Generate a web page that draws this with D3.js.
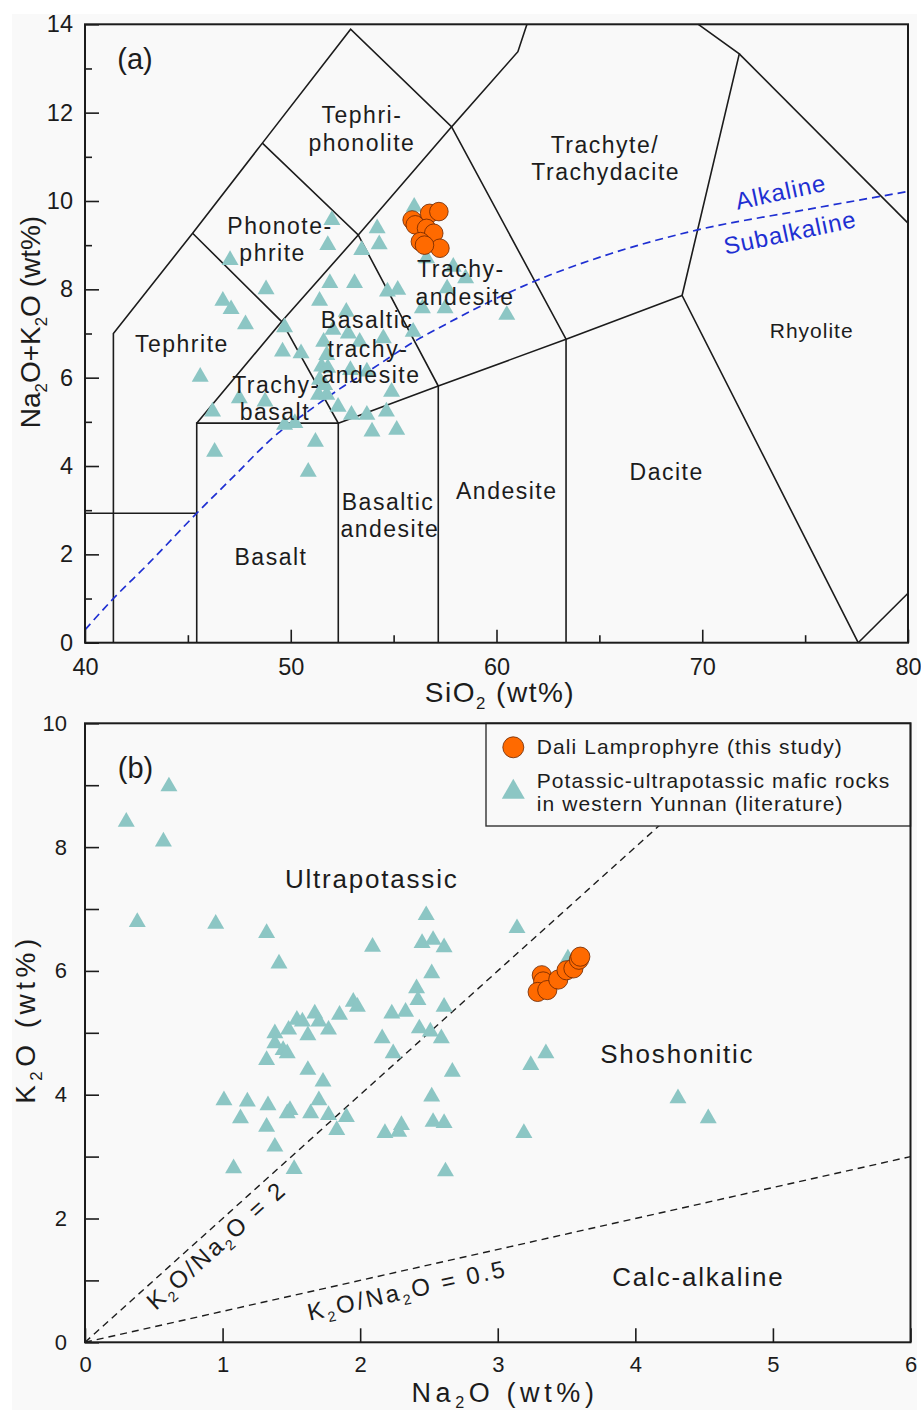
<!DOCTYPE html>
<html>
<head>
<meta charset="utf-8">
<script src="https://cdn.jsdelivr.net/npm/d3@7"></script>
<style>
  html, body { margin: 0; padding: 0; background: #ffffff; }
  svg { display: block; font-family: "Liberation Sans", Arial, Helvetica, sans-serif; }
</style>
</head>
<body>
<svg id="fig" width="921" height="1410"></svg>
<script>
// ---------------- Panel (a): TAS diagram ----------------
// Axis ticks
const tasXTicks = [40, 50, 60, 70, 80];
const tasXMinor = [45, 55, 65, 75];
const tasYTicks = [0, 2, 4, 6, 8, 10, 12, 14];
const tasYMinor = [1, 3, 5, 7, 9, 11, 13];

// Field boundaries (SiO2, Na2O+K2O)
const tasBoundaries = [
  [[41.38, 0], [41.38, 7.0], [45.23, 9.27], [48.62, 11.31], [52.91, 13.89], [57.82, 11.68], [61.04, 13.38], [61.48, 14]],
  [[40, 2.93], [45.43, 2.93]],
  [[45.43, 0], [45.43, 4.97], [52.31, 4.97], [52.31, 0]],
  [[45.23, 9.27], [49.56, 7.27], [45.43, 4.97]],
  [[48.62, 11.31], [53.28, 9.23], [57.17, 5.81], [57.17, 0]],
  [[49.56, 7.27], [53.28, 9.23], [57.82, 11.68]],
  [[49.56, 7.27], [52.31, 4.97], [57.17, 5.81], [63.38, 6.87], [69.02, 7.86], [77.58, 0]],
  [[57.82, 11.68], [63.38, 6.87], [63.38, 0]],
  [[69.02, 7.86], [71.8, 13.33], [69.81, 14]],
  [[71.8, 13.33], [80, 9.5]],
  [[77.58, 0], [80, 1.12]]
];

// Alkaline / subalkaline divide
const alkalineDivide = [
  [40, 0.29], [41.38, 1.0], [43, 1.75], [45.43, 2.93], [47.13, 3.72], [49.48, 4.78],
  [50.61, 5.16], [52.55, 5.80], [53.85, 6.17], [56.12, 6.85], [57.5, 7.2], [59.84, 7.76],
  [61.63, 8.14], [65.5, 8.8], [69.72, 9.34], [75, 9.8], [79.93, 10.21]
];

// Field names (SiO2, alkali at text baseline centre)
const tasLabels = [
  { t: "Tephri-", x: 53.46, y: 11.77 },
  { t: "phonolite", x: 53.46, y: 11.14 },
  { t: "Phonote-", x: 49.48, y: 9.25 },
  { t: "phrite", x: 49.12, y: 8.64 },
  { t: "Trachyte/", x: 65.27, y: 11.09 },
  { t: "Trachydacite", x: 65.31, y: 10.48 },
  { t: "Trachy-", x: 58.27, y: 8.29 },
  { t: "andesite", x: 58.47, y: 7.65 },
  { t: "Tephrite", x: 44.71, y: 6.59 },
  { t: "Basaltic", x: 53.71, y: 7.12 },
  { t: "trachy-", x: 53.75, y: 6.47 },
  { t: "andesite", x: 53.9, y: 5.87 },
  { t: "Trachy-", x: 49.28, y: 5.65 },
  { t: "basalt", x: 49.23, y: 5.04 },
  { t: "Basalt", x: 49.04, y: 1.76 },
  { t: "Basaltic", x: 54.73, y: 3.0 },
  { t: "andesite", x: 54.82, y: 2.40 },
  { t: "Andesite", x: 60.5, y: 3.25 },
  { t: "Dacite", x: 68.27, y: 3.68 },
  { t: "Rhyolite", x: 75.32, y: 6.9, small: true }
];
const seriesLabels = [
  { t: "Alkaline", x: 73.9, y: 10.02 },
  { t: "Subalkaline", x: 74.35, y: 9.1 }
];

// Potassic-ultrapotassic mafic rocks, western Yunnan (SiO2, Na2O+K2O)
const litTAS = [
  [52.0, 9.57], [51.8, 9.0], [47.05, 8.66], [48.8, 8.0], [51.9, 8.14], [46.7, 7.74], [47.1, 7.55],
  [47.8, 7.21], [51.4, 7.74], [49.7, 7.14], [54.2, 9.38], [54.3, 9.02], [53.45, 8.89], [56.0, 9.87],
  [53.1, 8.14], [54.7, 7.95], [55.2, 7.99], [56.6, 8.7], [57.9, 8.51], [58.5, 8.25], [57.6, 8.02],
  [56.4, 7.57], [57.5, 7.57], [60.5, 7.42], [52.7, 7.49], [49.6, 6.59], [50.5, 6.55], [51.6, 6.81],
  [51.75, 6.51], [51.5, 6.25], [45.6, 6.02], [51.35, 5.61], [51.75, 5.61], [47.5, 5.53], [48.75, 5.46],
  [46.2, 5.23], [52.3, 5.34], [52.95, 5.16], [49.7, 4.93], [50.2, 4.97], [51.2, 4.55], [46.3, 4.32],
  [50.85, 3.87], [52.8, 7.0], [53.35, 6.81], [54.5, 6.89], [55.95, 7.04], [52.9, 6.17], [53.7, 6.14],
  [51.8, 6.22], [51.4, 5.95], [54.9, 5.68], [54.65, 5.23], [53.7, 5.16], [53.95, 4.78], [55.15, 4.82],
  [52.05, 7.08], [51.65, 5.83]
];
// Dali lamprophyre (SiO2, Na2O+K2O)
const daliTAS = [
  [55.9, 9.57], [56.05, 9.46], [56.75, 9.72], [57.2, 9.76], [56.6, 9.38],
  [56.95, 9.27], [56.3, 9.08], [57.25, 8.93], [56.5, 9.0]
];

// ---------------- Panel (b): K2O vs Na2O ----------------
const bXTicks = [0, 1, 2, 3, 4, 5, 6];
const bYTicks = [0, 2, 4, 6, 8, 10];
const bYMinor = [1, 3, 5, 7, 9];
const ratioLines = [
  { ratio: 2, label: "K_2O/Na_2O = 2", x: 0.996, y: 1.47 },
  { ratio: 0.5, label: "K_2O/Na_2O = 0.5", x: 2.355, y: 0.71 }
];
const bLabels = [
  { t: "Ultrapotassic", x: 2.084, y: 7.34 },
  { t: "Shoshonitic", x: 4.305, y: 4.51 },
  { t: "Calc-alkaline", x: 4.458, y: 0.91 }
];
const legendItems = [
  { kind: "circle", lines: ["Dali Lamprophyre (this study)"] },
  { kind: "triangle", lines: ["Potassic-ultrapotassic mafic rocks", "in western Yunnan (literature)"] }
];
// (Na2O, K2O)
const litNaK = [
  [0.30, 8.41], [0.61, 8.98], [0.57, 8.09], [0.38, 6.79], [0.95, 6.76], [1.32, 6.61], [1.41, 6.12],
  [2.09, 6.39], [2.48, 6.90], [2.45, 6.45], [2.53, 6.50], [2.61, 6.38], [2.52, 5.96], [2.41, 5.72],
  [2.42, 5.53], [2.61, 5.42], [2.43, 5.07], [2.51, 5.02], [2.59, 4.91], [2.23, 5.31], [2.33, 5.34],
  [2.16, 4.91], [2.24, 4.67], [1.95, 5.50], [1.98, 5.42], [1.85, 5.29], [1.67, 5.31], [1.70, 5.18],
  [1.77, 5.05], [1.54, 5.21], [1.58, 5.18], [1.48, 5.05], [1.62, 4.96], [1.38, 4.99], [1.38, 4.83],
  [1.44, 4.72], [1.47, 4.67], [1.32, 4.56], [1.62, 4.40], [1.73, 4.21], [1.01, 3.91], [1.18, 3.89],
  [1.33, 3.83], [1.49, 3.75], [1.47, 3.70], [1.70, 3.91], [1.64, 3.70], [1.77, 3.67], [1.90, 3.64],
  [1.83, 3.43], [1.13, 3.62], [1.32, 3.48], [1.38, 3.16], [1.08, 2.81], [1.52, 2.80], [2.18, 3.38],
  [2.28, 3.40], [2.30, 3.51], [2.52, 3.97], [2.53, 3.56], [2.61, 3.54], [2.67, 4.37], [2.62, 2.76],
  [3.14, 6.69], [3.51, 6.20], [3.35, 4.67], [3.24, 4.48], [3.19, 3.38], [4.31, 3.94], [4.53, 3.62]
];
const daliNaK = [
  [3.32, 5.93], [3.33, 5.83], [3.29, 5.66], [3.36, 5.69], [3.44, 5.86],
  [3.50, 6.01], [3.55, 6.04], [3.59, 6.18], [3.60, 6.23]
];

// ---------------- drawing ----------------
const INK = "#1c1c1c";
const TEAL = "#8cc6c4";
const ORANGE = "#ff6a00";
const BLUE = "#1e2fd2";
const PAPER = "#f9f9f9";

const svg = d3.select("#fig");
svg.append("rect").attr("x", 12).attr("y", 14).attr("width", 905).attr("height", 1396).attr("fill", PAPER);

// text with "_n" subscripts
function richText(sel, str, fs) {
  const parts = str.split(/_(\d)/);
  let wasSub = false;
  parts.forEach((p, i) => {
    if (p === "") return;
    const isSub = i % 2 === 1;
    const ts = sel.append("tspan").text(p);
    if (isSub) { ts.attr("font-size", fs * 0.6).attr("dy", fs * 0.24); wasSub = true; }
    else if (wasSub) { ts.attr("dy", -fs * 0.24); wasSub = false; }
  });
  return sel;
}

const tri = (s) => d3.symbol().type(d3.symbolTriangle).size(s)();

function styleAxis(g, fs) {
  g.select(".domain").remove();
  g.attr("font-family", '"Liberation Sans", Arial, sans-serif').attr("font-size", fs).attr("color", INK);
  g.selectAll(".tick line").attr("stroke-width", 1.6);
  g.selectAll(".tick text").attr("fill", INK);
}

// ===== Panel (a) =====
const xA = d3.scaleLinear().domain([40, 80]).range([85, 908]);
const yA = d3.scaleLinear().domain([0, 14]).range([642.7, 24.3]);
const gA = svg.append("g");
const lineA = d3.line().x(d => xA(d[0])).y(d => yA(d[1]));

gA.selectAll("path.bnd").data(tasBoundaries).join("path")
  .attr("class", "bnd").attr("d", lineA)
  .attr("fill", "none").attr("stroke", INK).attr("stroke-width", 1.6).attr("stroke-linejoin", "miter");

gA.append("path").datum(alkalineDivide)
  .attr("d", d3.line().x(d => xA(d[0])).y(d => yA(d[1])).curve(d3.curveMonotoneX))
  .attr("fill", "none").attr("stroke", BLUE).attr("stroke-width", 1.7).attr("stroke-dasharray", "8,5");

gA.selectAll("path.lit").data(litTAS).join("path")
  .attr("class", "lit").attr("d", tri(125))
  .attr("transform", d => `translate(${xA(d[0])},${yA(d[1])})`)
  .attr("fill", TEAL);

gA.selectAll("circle.dali").data(daliTAS).join("circle")
  .attr("class", "dali").attr("cx", d => xA(d[0])).attr("cy", d => yA(d[1])).attr("r", 9.3)
  .attr("fill", ORANGE).attr("stroke", "#6a2400").attr("stroke-width", 0.8);

gA.selectAll("text.field").data(tasLabels).join("text")
  .attr("class", "field")
  .attr("x", d => xA(d.x)).attr("y", d => yA(d.y))
  .attr("text-anchor", "middle")
  .attr("font-size", d => d.small ? 21 : 23)
  .style("letter-spacing", d => d.small ? "1px" : "1.5px")
  .attr("fill", INK).text(d => d.t);

gA.selectAll("text.series").data(seriesLabels).join("text")
  .attr("class", "series")
  .attr("transform", d => `translate(${xA(d.x)},${yA(d.y)}) rotate(-12)`)
  .attr("text-anchor", "middle").attr("font-size", 24).style("letter-spacing", "1px")
  .attr("fill", BLUE).text(d => d.t);

gA.append("rect")
  .attr("x", xA(40)).attr("y", yA(14)).attr("width", xA(80) - xA(40)).attr("height", yA(0) - yA(14))
  .attr("fill", "none").attr("stroke", INK).attr("stroke-width", 2);

gA.append("g").attr("transform", `translate(0,${yA(0)})`)
  .call(d3.axisBottom(xA).tickValues(tasXTicks).tickFormat(d3.format("d")).tickSizeInner(-13).tickSizeOuter(0).tickPadding(15.5))
  .call(g => styleAxis(g, 23.5));
gA.append("g").attr("transform", `translate(0,${yA(0)})`)
  .call(d3.axisBottom(xA).tickValues(tasXMinor).tickFormat("").tickSizeInner(-7.5).tickSizeOuter(0))
  .call(g => styleAxis(g, 23.5));
gA.append("g").attr("transform", `translate(${xA(40)},0)`)
  .call(d3.axisLeft(yA).tickValues(tasYTicks).tickFormat(d3.format("d")).tickSizeInner(-14).tickSizeOuter(0).tickPadding(12))
  .call(g => styleAxis(g, 23.5));
gA.append("g").attr("transform", `translate(${xA(40)},0)`)
  .call(d3.axisLeft(yA).tickValues(tasYMinor).tickFormat("").tickSizeInner(-7).tickSizeOuter(0))
  .call(g => styleAxis(g, 23.5));

gA.append("text").attr("x", 135).attr("y", 68.5).attr("text-anchor", "middle")
  .attr("font-size", 29).attr("fill", INK).text("(a)");

richText(gA.append("text").attr("x", 500).attr("y", 702).attr("text-anchor", "middle")
  .attr("font-size", 28).style("letter-spacing", "1.5px").attr("fill", INK), "SiO_2 (wt%)", 28);
richText(gA.append("text").attr("transform", "translate(40,322) rotate(-90)").attr("text-anchor", "middle")
  .attr("font-size", 28).attr("fill", INK), "Na_2O+K_2O (wt%)", 28);

// ===== Panel (b) =====
const xB = d3.scaleLinear().domain([0, 6]).range([85, 910.5]);
const yB = d3.scaleLinear().domain([0, 10]).range([1342.3, 723.3]);
const gB = svg.append("g");

gB.selectAll("line.ratio").data(ratioLines).join("line")
  .attr("class", "ratio")
  .attr("x1", xB(0)).attr("y1", yB(0))
  .attr("x2", d => xB(Math.min(6, 10 / d.ratio))).attr("y2", d => yB(Math.min(6, 10 / d.ratio) * d.ratio))
  .attr("stroke", INK).attr("stroke-width", 1.4).attr("stroke-dasharray", "7,5");

gB.selectAll("path.lit").data(litNaK).join("path")
  .attr("class", "lit").attr("d", tri(125))
  .attr("transform", d => `translate(${xB(d[0])},${yB(d[1])})`)
  .attr("fill", TEAL);

gB.selectAll("circle.dali").data(daliNaK).join("circle")
  .attr("class", "dali").attr("cx", d => xB(d[0])).attr("cy", d => yB(d[1])).attr("r", 9.6)
  .attr("fill", ORANGE).attr("stroke", "#6a2400").attr("stroke-width", 0.8);

gB.selectAll("text.field").data(bLabels).join("text")
  .attr("class", "field")
  .attr("x", d => xB(d.x)).attr("y", d => yB(d.y))
  .attr("text-anchor", "middle").attr("font-size", 26).style("letter-spacing", "1.8px")
  .attr("fill", INK).text(d => d.t);

ratioLines.forEach(r => {
  const ang = Math.atan2(yB(0) - yB(r.ratio), xB(1) - xB(0)) * 180 / Math.PI;
  richText(gB.append("text")
    .attr("transform", `translate(${xB(r.x)},${yB(r.y)}) rotate(${-ang})`)
    .attr("text-anchor", "middle").attr("font-size", 24).style("letter-spacing", "2.6px")
    .attr("fill", INK), r.label, 24);
});

// legend
const lg = gB.append("g");
lg.append("rect").attr("x", 486).attr("y", yB(10)).attr("width", xB(6) - 486).attr("height", 102.7)
  .attr("fill", PAPER).attr("stroke", "#333").attr("stroke-width", 1.4);
lg.append("circle").attr("cx", 513.3).attr("cy", 747.3).attr("r", 10.5)
  .attr("fill", ORANGE).attr("stroke", "#6a2400").attr("stroke-width", 0.8);
lg.append("path").attr("d", tri(229)).attr("transform", "translate(513.3,792)").attr("fill", TEAL);
const legendBaselines = [[754], [788.3, 811]];
legendItems.forEach((it, i) => {
  it.lines.forEach((ln, j) => {
    lg.append("text").attr("x", 536.7).attr("y", legendBaselines[i][j])
      .attr("font-size", 21).style("letter-spacing", "1.1px").attr("fill", INK).text(ln);
  });
});

gB.append("rect")
  .attr("x", xB(0)).attr("y", yB(10)).attr("width", xB(6) - xB(0)).attr("height", yB(0) - yB(10))
  .attr("fill", "none").attr("stroke", INK).attr("stroke-width", 2);

gB.append("g").attr("transform", `translate(0,${yB(0)})`)
  .call(d3.axisBottom(xB).tickValues(bXTicks).tickFormat(d3.format("d")).tickSizeInner(-14).tickSizeOuter(0).tickPadding(14))
  .call(g => styleAxis(g, 22));
gB.append("g").attr("transform", `translate(${xB(0)},0)`)
  .call(d3.axisLeft(yB).tickValues(bYTicks).tickFormat(d3.format("d")).tickSizeInner(-14).tickSizeOuter(0).tickPadding(18))
  .call(g => styleAxis(g, 22));
gB.append("g").attr("transform", `translate(${xB(0)},0)`)
  .call(d3.axisLeft(yB).tickValues(bYMinor).tickFormat("").tickSizeInner(-14).tickSizeOuter(0))
  .call(g => styleAxis(g, 22));

gB.append("text").attr("x", 135.5).attr("y", 778.3).attr("text-anchor", "middle")
  .attr("font-size", 29).attr("fill", INK).text("(b)");

richText(gB.append("text").attr("x", 505).attr("y", 1402).attr("text-anchor", "middle")
  .attr("font-size", 27).style("letter-spacing", "4.6px").attr("fill", INK), "Na_2O (wt%)", 27);
richText(gB.append("text").attr("transform", "translate(35,1019) rotate(-90)").attr("text-anchor", "middle")
  .attr("font-size", 28).style("letter-spacing", "4.5px").attr("fill", INK), "K_2O (wt%)", 28);
</script>
</body>
</html>
